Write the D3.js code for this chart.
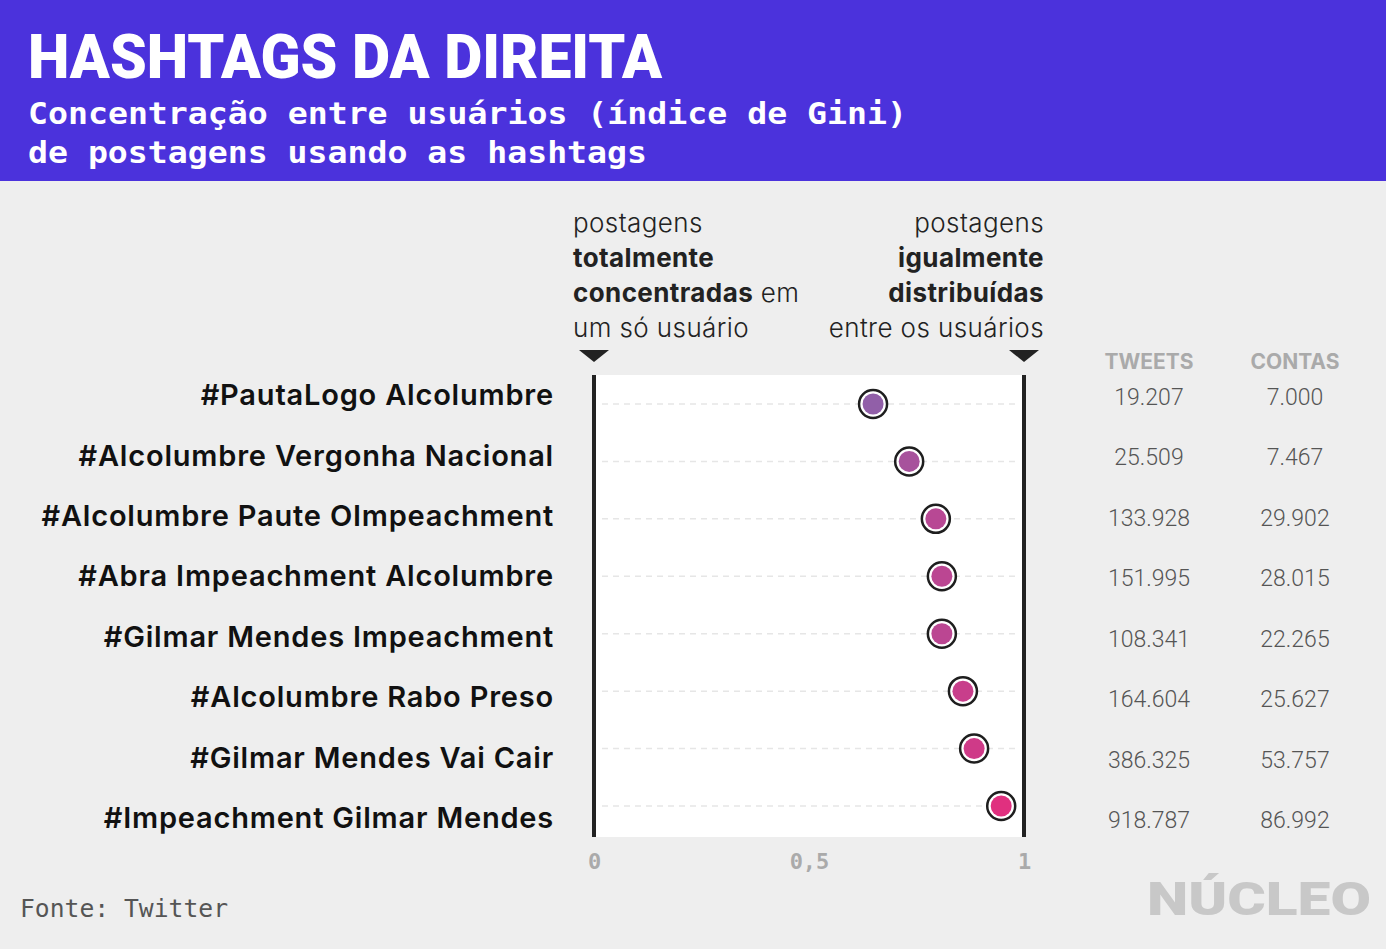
<!DOCTYPE html>
<html><head><meta charset="utf-8">
<script src="https://cdn.jsdelivr.net/npm/d3@7"></script>
<style>body{margin:0;background:#eeeeee;} svg{display:block;}</style>
</head><body><svg id="c" width="1386" height="949"></svg>
<script>
const hashtags = ["#PautaLogo Alcolumbre","#Alcolumbre Vergonha Nacional","#Alcolumbre Paute OImpeachment","#Abra Impeachment Alcolumbre","#Gilmar Mendes Impeachment","#Alcolumbre Rabo Preso","#Gilmar Mendes Vai Cair","#Impeachment Gilmar Mendes"];
const gini = [0.649, 0.733, 0.795, 0.809, 0.809, 0.858, 0.884, 0.947];
const tweets = ["19.207","25.509","133.928","151.995","108.341","164.604","386.325","918.787"];
const contas = ["7.000","7.467","29.902","28.015","22.265","25.627","53.757","86.992"];
const tickValues = [0, 0.5, 1];
const tickLabels = ["0", "0,5", "1"];

const svg = d3.select("#c");
svg.append("rect").attr("width",1386).attr("height",949).attr("fill","#eeeeee");
svg.append("rect").attr("width",1386).attr("height",181).attr("fill","#4b32dc");
svg.append("text").text("HASHTAGS DA DIREITA").attr("x",28).attr("y",78)
  .attr("font-family","Roboto").attr("font-weight",900).attr("font-size",62)
  .attr("fill","#fff").attr("textLength",634).attr("lengthAdjust","spacingAndGlyphs");
const subs = ["Concentração entre usuários (índice de Gini)","de postagens usando as hashtags"];
const subW = [879, 619];
subs.forEach((s,i)=>svg.append("text").text(s).attr("x",28).attr("y",124+i*39)
  .attr("font-family","DejaVu Sans Mono").attr("font-weight","bold").attr("font-size",30)
  .attr("fill","#fff").attr("textLength",subW[i]).attr("lengthAdjust","spacingAndGlyphs"));

const x = d3.scaleLinear().domain([0,1]).range([594,1024]);
const yDot = d3.scalePoint().domain(d3.range(hashtags.length)).range([404,806]);
const yLab = d3.scalePoint().domain(d3.range(hashtags.length)).range([395,818]);
const color = d3.scaleLinear().domain([0.649,0.947]).range(["#915fa8","#e0307f"]);

// plot area
svg.append("rect").attr("x",x(0)).attr("y",375).attr("width",x(1)-x(0)).attr("height",462).attr("fill","#fff");
svg.append("g").selectAll("line").data(gini).join("line")
  .attr("x1",x(0)+8).attr("x2",x(1)-6).attr("y1",(d,i)=>yDot(i)).attr("y2",(d,i)=>yDot(i))
  .attr("stroke","#e6e6e6").attr("stroke-width",1.5).attr("stroke-dasharray","6,5");
[0,1].forEach(v=>svg.append("line").attr("x1",x(v)).attr("x2",x(v)).attr("y1",375).attr("y2",837)
  .attr("stroke","#222").attr("stroke-width",4));
[0,1].forEach(v=>svg.append("path")
  .attr("d",`M${x(v)-15},350 L${x(v)+15},350 L${x(v)},362 Z`).attr("fill","#222"));

// axis
const axis = d3.axisBottom(x).tickValues(tickValues).tickFormat((d,i)=>tickLabels[i]).tickSize(0);
const ag = svg.append("g").attr("transform","translate(0,850)").call(axis);
ag.select(".domain").remove();
ag.selectAll("text").attr("font-family","DejaVu Sans Mono").attr("font-weight","bold")
  .attr("font-size",22).attr("fill","#aaaaaa").attr("dy","0.71em");

// dots
const dg = svg.append("g").selectAll("g").data(gini).join("g");
dg.append("circle").attr("cx",d=>x(d)).attr("cy",(d,i)=>yDot(i)).attr("r",14)
  .attr("fill","#fff").attr("stroke","#1e1e1e").attr("stroke-width",2.5);
dg.append("circle").attr("cx",d=>x(d)).attr("cy",(d,i)=>yDot(i)).attr("r",10.5)
  .attr("fill",d=>color(d));

// labels
svg.append("g").selectAll("text").data(hashtags).join("text").text(d=>d)
  .attr("x",554).attr("y",(d,i)=>yLab(i)).attr("dy","0.35em").attr("text-anchor","end")
  .attr("font-family","Inter").attr("font-weight",600).attr("font-size",29)
  .attr("letter-spacing",0.8).attr("fill","#111");

// columns
const colX = [1149, 1295];
["TWEETS","CONTAS"].forEach((h,j)=>svg.append("text").text(h).attr("x",colX[j]).attr("y",369)
  .attr("text-anchor","middle").attr("font-family","Inter").attr("font-weight","bold")
  .attr("font-size",21).attr("fill","#aaaaaa"));
[tweets, contas].forEach((arr,j)=>svg.append("g").selectAll("text").data(arr).join("text").text(d=>d)
  .attr("x",colX[j]).attr("y",(d,i)=>yLab(i)+2).attr("dy","0.35em").attr("text-anchor","middle")
  .attr("font-family","Roboto").attr("font-weight",300).attr("font-size",23).attr("fill","#555"));

// annotations
const leftAnn = [[["postagens",400]],[["totalmente",700]],[["concentradas",700],[" em",400]],[["um só usuário",400]]];
const rightAnn = [[["postagens",400]],[["igualmente",700]],[["distribuídas",700]],[["entre os usuários",400]]];
function ann(lines, xx, anchor){
  lines.forEach((parts,i)=>{
    const t = svg.append("text").attr("x",xx).attr("y",232+i*35).attr("text-anchor",anchor)
      .attr("font-family","Inter").attr("font-size",26).attr("letter-spacing",0.4).attr("fill","#222");
    parts.forEach(p=>t.append("tspan").text(p[0]).attr("font-weight",p[1]==400?300:p[1]));
  });
}
ann(leftAnn, 573, "start");
ann(rightAnn, 1044, "end");

svg.append("text").text("Fonte: Twitter").attr("x",20).attr("y",917)
  .attr("font-family","DejaVu Sans Mono").attr("font-size",24).attr("fill","#555")
  .attr("textLength",208).attr("lengthAdjust","spacingAndGlyphs");
svg.append("text").text("NÚCLEO").attr("x",1147).attr("y",915)
  .attr("font-family","Roboto").attr("font-weight",900).attr("font-size",46).attr("fill","#c8c8c8")
  .attr("textLength",224).attr("lengthAdjust","spacingAndGlyphs");
</script></body></html>
